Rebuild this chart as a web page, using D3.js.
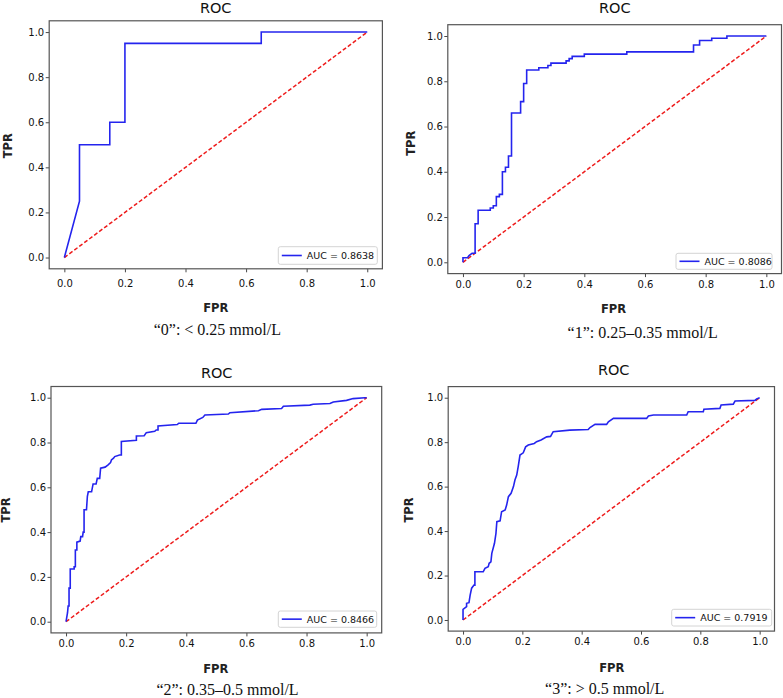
<!DOCTYPE html>
<html><head><meta charset="utf-8">
<script src="https://cdn.jsdelivr.net/npm/d3@7"></script>
<style>body{margin:0;background:#fff} svg{display:block}</style>
</head><body>
<svg id="chart" width="783" height="698"></svg>
<script>
// ---------- DATA ----------
const titles = ["ROC", "ROC", "ROC", "ROC"];
const captions = ["“0”: < 0.25 mmol/L", "“1”: 0.25–0.35 mmol/L", "“2”: 0.35–0.5 mmol/L", "“3”: > 0.5 mmol/L"];
const aucLabels = ["AUC = 0.8638", "AUC = 0.8086", "AUC = 0.8466", "AUC = 0.7919"];
const xLabel = "FPR";
const yLabel = "TPR";
const tickValues = [0, 0.2, 0.4, 0.6, 0.8, 1.0];
const chanceFpr = [0, 1];
const chanceTpr = [0, 1];

const fpr0 = [0, 0.05, 0.05, 0.15, 0.15, 0.2, 0.2, 0.65, 0.65, 1.0];
const tpr0 = [0, 0.25, 0.5, 0.5, 0.6, 0.6, 0.95, 0.95, 1.0, 1.0];

const fpr1 = [0,0,0.015,0.02,0.03,0.04,0.04,0.05,0.05,0.09,0.09,0.10,0.10,0.11,0.11,0.12,0.12,0.13,0.13,0.14,0.14,0.15,0.15,0.16,0.16,0.19,0.19,0.20,0.20,0.21,0.21,0.25,0.25,0.28,0.28,0.29,0.29,0.34,0.34,0.35,0.35,0.36,0.36,0.40,0.40,0.54,0.54,0.76,0.76,0.78,0.78,0.82,0.82,0.87,0.87,1.0];
const tpr1 = [0,0.02,0.02,0.03,0.04,0.04,0.17,0.17,0.23,0.23,0.24,0.24,0.25,0.25,0.29,0.29,0.30,0.30,0.40,0.40,0.42,0.42,0.47,0.47,0.66,0.66,0.71,0.71,0.79,0.79,0.85,0.85,0.86,0.86,0.87,0.87,0.88,0.88,0.89,0.89,0.90,0.90,0.91,0.91,0.92,0.92,0.93,0.93,0.96,0.96,0.98,0.98,0.99,0.99,1.0,1.0];

const fpr2 = [0,0.005,0.007,0.01,0.01,0.014,0.014,0.027,0.027,0.031,0.031,0.036,0.036,0.047,0.049,0.055,0.057,0.06,0.06,0.068,0.071,0.074,0.085,0.09,0.10,0.104,0.112,0.115,0.13,0.14,0.148,0.151,0.158,0.162,0.178,0.184,0.184,0.234,0.234,0.26,0.267,0.295,0.30,0.306,0.306,0.37,0.375,0.432,0.437,0.455,0.462,0.54,0.545,0.64,0.651,0.717,0.723,0.811,0.822,0.878,0.889,0.933,0.955,0.994,1];
const tpr2 = [0,0.04,0.07,0.07,0.15,0.15,0.235,0.235,0.245,0.245,0.32,0.32,0.355,0.36,0.38,0.38,0.40,0.40,0.50,0.50,0.56,0.58,0.58,0.615,0.615,0.64,0.64,0.685,0.69,0.70,0.71,0.722,0.73,0.737,0.744,0.744,0.805,0.81,0.829,0.83,0.844,0.85,0.856,0.856,0.874,0.88,0.886,0.886,0.90,0.912,0.923,0.927,0.933,0.942,0.948,0.952,0.962,0.967,0.971,0.974,0.981,0.988,0.996,1.0,1];

const fpr3 = [0,0,0.012,0.012,0.02,0.024,0.029,0.037,0.04,0.04,0.068,0.074,0.085,0.088,0.094,0.097,0.106,0.111,0.114,0.125,0.13,0.142,0.147,0.153,0.162,0.17,0.175,0.181,0.186,0.192,0.203,0.211,0.22,0.24,0.248,0.263,0.282,0.295,0.304,0.36,0.422,0.428,0.445,0.484,0.49,0.507,0.619,0.625,0.642,0.754,0.759,0.81,0.812,0.866,0.87,0.911,0.917,0.984,0.99,1.0];
const tpr3 = [0,0.048,0.06,0.075,0.078,0.112,0.143,0.157,0.157,0.217,0.217,0.232,0.24,0.255,0.262,0.30,0.345,0.39,0.442,0.446,0.487,0.495,0.517,0.555,0.57,0.60,0.63,0.652,0.69,0.742,0.752,0.779,0.787,0.794,0.802,0.81,0.824,0.826,0.847,0.854,0.857,0.866,0.88,0.88,0.892,0.907,0.907,0.918,0.922,0.922,0.937,0.937,0.948,0.952,0.967,0.971,0.985,0.988,0.995,1.0];

const fprSeries = [fpr0, fpr1, fpr2, fpr3];
const tprSeries = [tpr0, tpr1, tpr2, tpr3];

// ---------- LAYOUT (pixel positions of each pasted panel) ----------
const layout = [
  {l:49.2, r:382.4, t:20.8, b:268.8, titleX:215.7, titleY:12.7, xlX:215.7, xlY:311.5, ylX:8.3, ylY:145.7, capX:217.3, capY:334.5, xPad:7.5, leg:{x:278.3, y:246.7, w:99, h:17.6}},
  {l:447.8, r:781.5, t:24.7, b:273.6, titleX:614.8, titleY:13.3, xlX:613.5, xlY:313.3, ylX:411.3, ylY:143.3, capX:642.7, capY:338, xPad:4, leg:{x:676, y:253.3, w:96, h:16}},
  {l:51, r:381.7, t:386.5, b:632.9, titleX:216.7, titleY:378.3, xlX:215.8, xlY:673.3, ylX:5.8, ylY:510, capX:227.5, capY:695, xPad:4, leg:{x:278.3, y:611, w:98.4, h:16.3}},
  {l:448.2, r:774.5, t:386.6, b:631.1, titleX:613.7, titleY:375, xlX:611.8, xlY:671.7, ylX:409.3, ylY:510, capX:604.7, capY:694, xPad:3, leg:{x:671.7, y:609.3, w:100, h:16.7}}
];

const svg = d3.select("#chart");
const sans = "'DejaVu Sans', sans-serif";

layout.forEach((L, i) => {
  const x = d3.scaleLinear().domain([-0.05, 1.05]).range([L.l, L.r]);
  const y = d3.scaleLinear().domain([-0.05, 1.05]).range([L.b, L.t]);
  const g = svg.append("g");

  const clipId = "clip" + i;
  svg.append("clipPath").attr("id", clipId).append("rect")
    .attr("x", L.l).attr("y", L.t).attr("width", L.r - L.l).attr("height", L.b - L.t);

  const xa = g.append("g").attr("transform", `translate(0,${L.b})`)
    .call(d3.axisBottom(x).tickValues(tickValues).tickFormat(d3.format(".1f")).tickSize(3.5).tickPadding(L.xPad));
  const ya = g.append("g").attr("transform", `translate(${L.l},0)`)
    .call(d3.axisLeft(y).tickValues(tickValues).tickFormat(d3.format(".1f")).tickSize(3.5).tickPadding(1.5));
  [xa, ya].forEach(a => {
    a.select(".domain").remove();
    a.selectAll(".tick line").attr("stroke", "#333").attr("stroke-width", 0.9);
    a.selectAll(".tick text").attr("font-family", sans).attr("font-size", 10).attr("fill", "#111");
  });

  const line = d3.line().x(d => x(d[0])).y(d => y(d[1]));
  g.append("path")
    .datum(d3.zip(chanceFpr, chanceTpr))
    .attr("d", line).attr("fill", "none").attr("stroke", "#ee1c1c")
    .attr("stroke-width", 1.5).attr("stroke-dasharray", "4,2.2")
    .attr("clip-path", `url(#${clipId})`);

  g.append("path")
    .datum(d3.zip(fprSeries[i], tprSeries[i]))
    .attr("d", line).attr("fill", "none").attr("stroke", "#2424ee")
    .attr("stroke-width", 1.6).attr("stroke-linejoin", "miter")
    .attr("clip-path", `url(#${clipId})`);

  g.append("rect").attr("x", L.l).attr("y", L.t)
    .attr("width", L.r - L.l).attr("height", L.b - L.t)
    .attr("fill", "none").attr("stroke", "#555").attr("stroke-width", 1.2);

  const lg = g.append("g");
  lg.append("rect").attr("x", L.leg.x).attr("y", L.leg.y).attr("width", L.leg.w).attr("height", L.leg.h)
    .attr("rx", 2).attr("fill", "#fff").attr("stroke", "#cfcfcf").attr("stroke-width", 0.9);
  const cy = L.leg.y + L.leg.h / 2;
  lg.append("line").attr("x1", L.leg.x + 3.5).attr("x2", L.leg.x + 23.5).attr("y1", cy).attr("y2", cy)
    .attr("stroke", "#2424ee").attr("stroke-width", 1.6);
  lg.append("text").attr("x", L.leg.x + 28.5).attr("y", cy).attr("dy", "0.36em")
    .attr("font-family", sans).attr("font-size", 9.5).attr("fill", "#111").text(aucLabels[i]);

  g.append("text").attr("x", L.titleX).attr("y", L.titleY).attr("text-anchor", "middle")
    .attr("font-family", sans).attr("font-size", 14.5).attr("fill", "#111").text(titles[i]);
  g.append("text").attr("x", L.xlX).attr("y", L.xlY).attr("text-anchor", "middle")
    .attr("font-family", sans).attr("font-size", 11.5).attr("font-weight", "bold").attr("fill", "#222").text(xLabel);
  g.append("text").attr("transform", `translate(${L.ylX},${L.ylY}) rotate(-90)`)
    .attr("text-anchor", "middle").attr("dy", "0.36em")
    .attr("font-family", sans).attr("font-size", 11.5).attr("font-weight", "bold").attr("fill", "#222").text(yLabel);
  g.append("text").attr("x", L.capX).attr("y", L.capY).attr("text-anchor", "middle")
    .attr("font-family", "'Liberation Serif', 'Times New Roman', serif").attr("font-size", 16)
    .attr("fill", "#111").text(captions[i]);
});
</script>
</body></html>
